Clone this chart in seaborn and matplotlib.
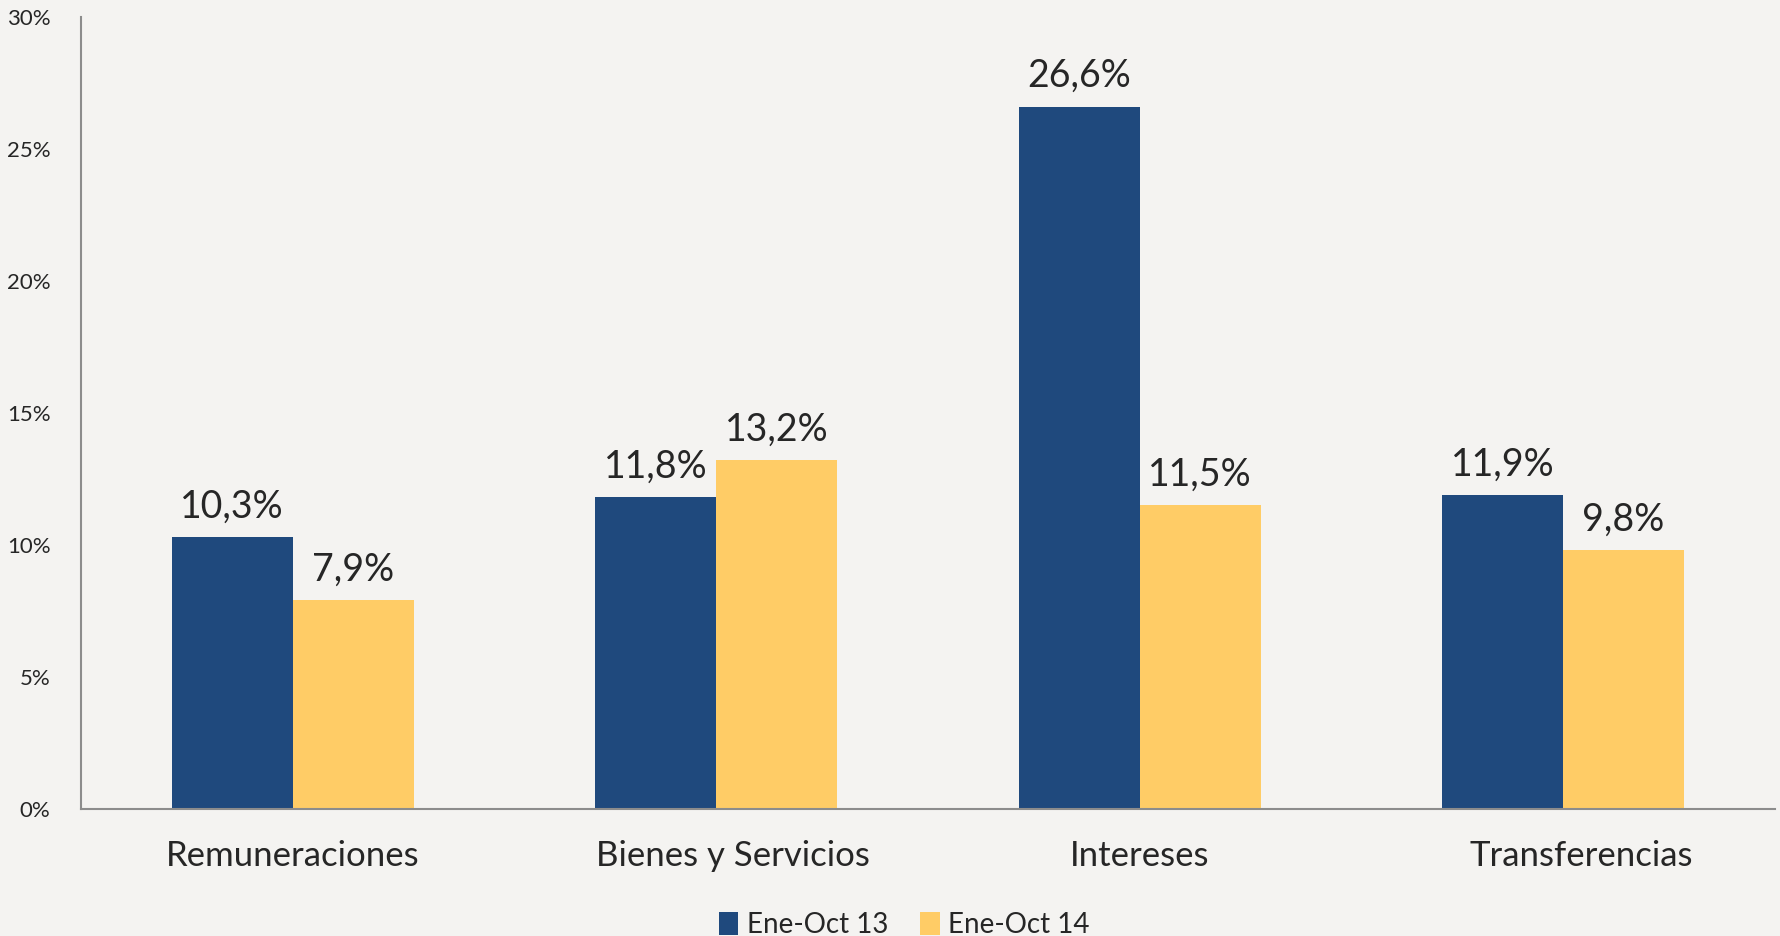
import pandas as pd
import seaborn as sns
import matplotlib.pyplot as plt
import matplotlib.transforms as mtransforms
from matplotlib.ticker import FuncFormatter

categories = ['Remuneraciones', 'Bienes y Servicios', 'Intereses', 'Transferencias']
series_names = ['Ene-Oct 13', 'Ene-Oct 14']
ene_oct_13 = [10.3, 11.8, 26.6, 11.9]
ene_oct_14 = [7.9, 13.2, 11.5, 9.8]
colors = ['#1f497d', '#ffcc66']

df = pd.DataFrame({
    'categoria': categories * 2,
    'serie': [series_names[0]] * 4 + [series_names[1]] * 4,
    'valor': ene_oct_13 + ene_oct_14,
})

sns.set_style('white')
plt.rcParams['font.family'] = ['Lato', 'DejaVu Sans']

fig = plt.figure(figsize=(17.81, 9.36), dpi=100, facecolor='#f4f3f1')
ax = fig.add_axes([0.0455, 0.1357, 0.951, 0.8463])
ax.set_facecolor('none')

sns.barplot(data=df, x='categoria', y='valor', hue='serie', palette=colors,
            width=0.572, saturation=1, linewidth=0, ax=ax, legend=True)

for cont in ax.containers:
    labels = [f'{v:.1f}%'.replace('.', ',') for v in cont.datavalues]
    ax.bar_label(cont, labels=labels, padding=9, fontsize=27)

ax.set_ylim(0, 30)
ax.set_xlim(-0.5, 3.5)
ax.set_yticks(range(0, 31, 5))
ax.yaxis.set_major_formatter(FuncFormatter(lambda v, p: f'{v:.0f}%'))
ax.tick_params(axis='y', labelsize=16, length=0, pad=22)
ax.tick_params(axis='x', labelsize=25, length=0, pad=22)
ax.set_xlabel('')
ax.set_ylabel('')

# the original nudges two of the category labels a bit to the right
shifts = [0, 17, 0, 18]
for lbl, dx in zip(ax.get_xticklabels(), shifts):
    lbl.set_transform(lbl.get_transform() +
                      mtransforms.ScaledTranslation(dx / 100, 0, fig.dpi_scale_trans))

sns.despine(ax=ax)
for s in ['left', 'bottom']:
    ax.spines[s].set_color('#8c8c8c')
    ax.spines[s].set_linewidth(1.5)

ax.legend(loc='center', bbox_to_anchor=(0.486, -0.147), ncol=2, frameon=False,
          fontsize=20, handlelength=0.7, handleheight=0.9, handletextpad=0.3,
          columnspacing=1.15)

fig.savefig('out.png', dpi=100, facecolor=fig.get_facecolor())
